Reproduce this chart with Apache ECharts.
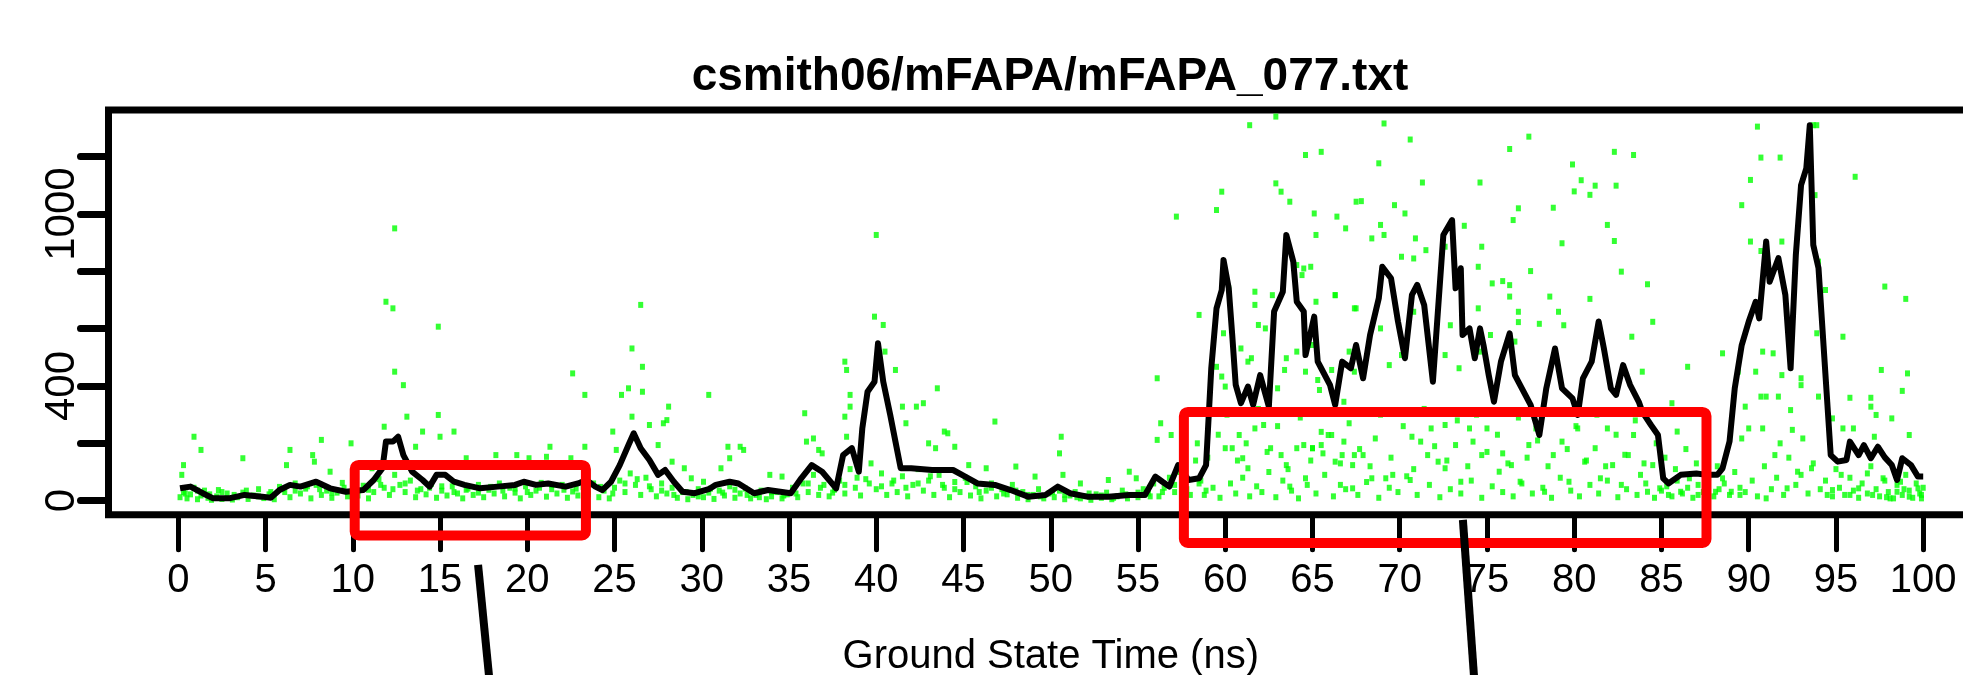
<!DOCTYPE html>
<html>
<head>
<meta charset="utf-8">
<script src="https://cdn.jsdelivr.net/npm/echarts@6/dist/echarts.min.js"></script>
<style>
html,body{margin:0;padding:0;background:#fff;}
#chart{width:1963px;height:675px;}
</style>
</head>
<body>
<div id="chart"></div>
<script>
// ---------------- data ----------------
const chartTitle = 'csmith06/mFAPA/mFAPA_077.txt';
const xAxisTitle = 'Ground State Time (ns)';
const xTickValues = [0,5,10,15,20,25,30,35,40,45,50,55,60,65,70,75,80,85,90,95,100];
const yTickValues = [0,200,400,600,800,1000,1200];
const yLabelValues = [0,400,1000];

// smoothed (running-mean) trace [time ns, intensity]
const avgLine = [
[0.1,43],[0.7,49],[1.4,26],[2.0,8],[2.9,8],[3.8,20],[4.8,14],[5.3,10],[5.8,37],[6.4,55],[7.0,49],[7.9,66],[8.7,43],[9.6,31],[10.6,37],
[11.2,72],[11.7,113],[11.9,206],[12.3,206],[12.6,223],[12.9,159],[13.4,101],[14.0,72],[14.4,49],[14.8,90],[15.3,90],[15.8,66],[16.4,55],
[17.3,43],[18.3,49],[19.3,55],[19.8,66],[20.5,55],[21.2,60],[22.2,49],[22.9,60],[23.4,72],[23.9,49],[24.3,37],[24.8,66],[25.3,124],
[25.8,194],[26.1,235],[26.5,183],[27.0,142],[27.5,90],[27.9,107],[28.4,66],[28.9,31],[29.6,26],[30.4,40],[30.8,55],[31.6,66],[32.1,60],
[33.0,26],[33.8,37],[34.5,31],[35.1,26],[35.7,78],[36.3,124],[36.9,101],[37.7,43],[38.1,159],[38.6,183],[39.0,101],[39.2,252],[39.5,380],
[39.9,415],[40.1,549],[40.4,415],[40.8,299],[41.1,206],[41.4,113],[42.0,113],[43.2,107],[44.4,107],[45.1,84],[45.8,60],[46.8,55],[47.7,37],
[48.7,14],[49.7,20],[50.4,49],[51.1,26],[52.1,14],[53.3,14],[54.5,20],[55.4,20],[56.0,84],[56.4,66],[56.8,49],[57.3,124],[57.9,72],
[58.5,78],[58.9,124],[59.2,462],[59.5,671],[59.8,735],[59.9,840],[60.2,741],[60.4,578],[60.6,404],[60.9,340],[61.3,398],[61.6,334],
[62.0,438],[62.5,328],[62.8,660],[63.3,729],[63.5,927],[63.9,834],[64.1,694],[64.5,660],[64.6,508],[65.1,642],[65.3,485],[65.5,462],
[66.0,404],[66.3,334],[66.7,485],[67.2,462],[67.5,543],[67.9,427],[68.3,578],[68.8,706],[69.0,816],[69.5,776],[69.9,625],[70.3,497],
[70.7,718],[71.0,753],[71.4,683],[71.9,415],[72.2,671],[72.5,927],[73.0,979],[73.2,741],[73.5,811],[73.6,578],[74.0,601],[74.3,497],
[74.6,601],[74.8,543],[75.1,438],[75.4,345],[75.8,485],[76.3,584],[76.6,438],[77.0,392],[77.5,334],[78.0,229],[78.4,392],[78.9,531],
[79.3,392],[79.9,357],[80.2,299],[80.5,427],[81.0,485],[81.4,625],[81.7,531],[82.1,392],[82.4,369],[82.8,473],[83.2,404],[83.7,345],
[83.9,310],[84.4,264],[84.8,229],[85.1,78],[85.4,60],[86.1,90],[87.0,95],[87.6,90],[88.2,90],[88.5,113],[88.9,206],[89.2,392],[89.6,543],
[90.0,625],[90.4,694],[90.6,636],[91.0,904],[91.2,764],[91.7,846],[92.1,718],[92.4,462],[92.7,857],[93.0,1101],[93.3,1159],[93.5,1310],
[93.7,892],[94.0,811],[94.3,531],[94.7,159],[95.1,136],[95.6,142],[95.8,206],[96.3,159],[96.6,194],[97.0,148],[97.4,188],[97.8,151],
[98.2,124],[98.5,72],[98.8,148],[99.3,124],[99.7,84],[100.0,84]
];

// individual photon-count points, higher outliers
const highDots = [
[0.9,223],[0.3,124],[1.3,177],[0.2,90],[2.3,37],[3.7,148],[6.4,177],[6.2,124],[7.7,159],[7.8,136],[8.2,212],[8.7,101],[9.9,200],[10.1,90],
[11.1,113],[11.8,258],[11.9,694],[12.3,671],[12.4,950],[12.4,450],[12.9,403],[13.1,293],[13.6,188],[14.0,241],[14.9,299],[15.0,223],
[14.9,607],[15.8,241],[16.5,148],[18.2,159],[19.4,159],[20.1,148],[21.3,188],[21.1,153],[22.5,148],[22.6,444],[23.3,369],[23.3,188],
[24.9,241],[25.1,177],[25.4,369],[25.8,392],[26.0,531],[26.0,293],[26.5,683],[26.6,467],[26.6,380],[27.0,264],[27.8,270],[28.1,328],
[28.0,281],[27.5,194],[28.3,136],[29.0,113],[29.4,78],[30.4,369],[30.1,66],[31.5,188],[32.2,188],[32.4,177],[31.6,148],[31.1,113],
[33.9,90],[34.6,84],[35.9,305],[36.0,206],[36.4,217],[36.7,177],[36.9,165],[38.2,485],[38.3,456],[38.5,369],[38.5,328],[38.2,293],
[38.3,223],[39.9,642],[40.4,613],[40.0,927],[40.5,520],[41.1,456],[41.5,328],[41.7,270],[42.3,328],[42.7,340],[43.5,392],[43.0,200],
[43.4,183],[43.9,241],[44.1,235],[44.5,188],[46.8,276],[45.3,124],[46.3,113],[48.0,119],[49.1,84],[50.6,223],[50.5,165],[50.7,90],
[51.7,60],[53.3,72],[54.5,101],[54.9,78],[56.1,427],[56.3,270],[56.1,212],[57.2,991],[56.9,229],[58.5,648],[58.4,200],[59.5,1014],
[59.8,1078],[61.4,1310],[62.9,1340],[62.9,1107],[63.2,1078],[63.7,1043],[64.6,1206],[65.5,1217],[65.1,1002],[65.2,927],[66.4,991],
[66.9,950],[67.5,1043],[59.9,584],[59.5,467],[59.8,433],[60.0,398],[60.2,741],[60.9,531],[61.3,485],[61.5,497],[61.7,729],[61.7,683],
[61.9,613],[62.3,601],[62.7,717],[63.0,392],[63.4,456],[63.5,497],[64.1,822],[64.4,787],[64.1,520],[64.6,450],[65.2,694],[65.3,421],
[65.4,386],[66.3,717],[66.1,456],[66.8,345],[67.5,671],[60.0,183],[60.4,183],[60.8,229],[61.0,148],[61.3,113],[61.7,252],[62.2,264],
[62.6,183],[63.2,159],[63.5,124],[63.7,49],[64.1,183],[64.6,78],[65.0,183],[65.5,194],[65.9,229],[66.3,136],[66.6,55],[66.8,206],
[67.3,43],[67.4,159],
[69.1,1316],[68.8,1177],[70.6,1260],[71.3,1110],[67.8,1045],[69.7,1031],[70.3,1002],[68.9,962],[68.4,915],[69.1,927],[70.9,915],
[73.7,959],[74.6,1110],[76.3,1227],[77.4,1270],[76.8,1020],[76.5,979],[78.8,1022],[79.9,1173],[80.4,1118],[81.2,1099],[80.0,1079],
[80.9,1067],[82.3,1217],[83.4,1206],[82.4,1099],[81.9,962],[82.3,906],[79.3,898],[74.7,886],[71.5,874],[70.1,851],[70.8,845],[72.6,886],
[74.5,816],[77.5,801],[82.7,799],[84.2,755],[75.9,766],[76.3,752],[75.3,758],[64.5,810],[64.9,816],[66.3,717],[67.4,671],[70.8,659],
[74.5,671],[76.3,712],[76.8,659],[78.6,712],[79.1,659],[80.9,704],[76.8,623],[78.0,617],[79.4,612],[84.5,624],[72.9,612],[68.9,601],
[72.6,508],[65.0,543],[67.1,520],[67.4,450],[69.4,473],[70.1,508],[73.4,462],[74.6,520],[75.2,578],[76.6,555],[83.3,572],[83.9,450],
[86.5,467],[85.6,340],
[90.5,1305],[90.7,1197],[91.8,1197],[90.1,1119],[89.6,1031],[93.7,1310],[93.9,1310],[96.1,1130],[93.8,1066],[91.9,904],[90.1,904],
[90.7,871],[94.0,834],[94.4,735],[97.8,747],[99.0,704],[93.9,584],[95.4,572],[88.5,514],[89.4,450],[90.8,520],[91.4,514],[90.4,450],
[91.9,438],[93.0,427],[93.0,403],[97.6,456],[99.1,444],[98.8,383],[91.0,363],[91.7,363],[90.7,363],[94.0,363],[95.8,359],[97.0,359],
[97.0,328],[89.8,328],[92.4,316],[97.3,299],[98.2,287],[94.8,287],[92.5,247],[93.1,217],[90.0,252],[90.8,252],[99.2,229],[96.0,252],
[95.4,252],[97.2,223],[91.8,200],[89.6,217],[91.5,159]
];

// dense low-level points
const lowDots = [
[0.1,12],[0.3,30],[0.5,8],[0.7,22],[0.9,45],[1.1,5],[1.3,18],[1.5,35],[1.7,10],[1.9,3],[2.2,15],[2.5,6],[2.8,25],[3.1,4],[3.4,12],[3.7,28],
[4.0,6],[4.3,18],[4.6,40],[4.9,9],[5.2,22],[5.5,5],[5.8,48],[6.1,30],[6.4,12],[6.7,60],[7.0,25],[7.3,42],[7.6,8],[7.9,55],[8.2,20],[8.5,35],
[8.8,10],[9.1,28],[9.4,62],[9.7,15],[10.0,40],[10.3,18],[10.6,52],[10.9,8],[11.2,30],[11.5,75],[11.8,45],[12.1,20],[12.4,90],[12.7,55],
[13.0,30],[13.3,70],[13.6,12],[13.9,40],[14.2,22],[14.5,58],[14.8,10],[15.1,35],[15.4,18],[15.7,50],[16.0,25],[16.3,8],[16.6,42],[16.9,20],
[17.2,55],[17.5,12],[17.8,38],[18.1,25],[18.4,60],[18.7,15],[19.0,45],[19.3,28],[19.6,8],[19.9,50],[20.2,20],[20.5,35],[20.8,62],[21.1,14],
[21.4,40],[21.7,25],[22.0,55],[22.3,10],[22.6,32],[22.9,18],[23.2,48],[23.5,22],[23.8,60],[24.1,12],[24.4,35],[24.7,8],[25.0,45],[25.3,70],
[25.6,30],[25.9,95],[26.2,55],[26.5,20],[26.8,80],[27.1,40],[27.4,15],[27.7,60],[28.0,25],[28.3,45],[28.6,10],[28.9,30],[29.2,5],[29.5,20],
[29.8,40],[30.1,12],[30.4,28],[30.7,6],[31.0,35],[31.3,18],[31.6,50],[31.9,10],[32.2,25],[32.5,42],[32.8,8],[33.1,20],[33.4,35],[33.7,5],
[34.0,15],[34.3,30],[34.6,8],[34.9,22],[35.2,45],[35.5,12],[35.8,60],[36.1,30],[36.4,90],[36.7,20],[37.0,55],[37.3,15],[37.6,38],[37.9,70],
[38.2,25],[38.5,110],[38.8,45],[39.1,18],[39.4,75],[39.7,130],[40.0,40],[40.3,95],[40.6,20],[40.9,60],[41.2,30],[41.5,85],[41.8,15],[42.1,55],
[42.4,110],[42.7,35],[43.0,70],[43.3,20],[43.6,90],[43.9,45],[44.2,12],[44.5,65],[44.8,30],[45.1,80],[45.4,18],[45.7,50],[46.0,8],[46.3,35],
[46.6,60],[46.9,15],[47.2,40],[47.5,22],[47.8,55],[48.1,10],[48.4,30],[48.7,5],[49.0,20],[49.3,40],[49.6,8],[49.9,25],[50.2,12],[50.5,35],
[50.8,5],[51.1,18],[51.4,30],[51.7,8],[52.0,15],[52.3,3],[52.6,22],[52.9,10],[53.2,28],[53.5,5],[53.8,15],[54.1,35],[54.4,8],[54.7,20],
[55.0,12],[55.3,40],[55.6,25],[55.9,60],[56.2,15],[56.5,45],[56.8,80],[57.1,30],[57.4,100],[57.7,50],[58.0,20],[58.3,140],[58.6,70],[58.9,35],
[0.4,25],[1.1,35],[1.8,22],[2.5,30],[3.2,20],[3.9,35],[4.6,15],[5.3,30],[6.0,40],[6.7,35],[7.4,50],[8.1,40],[8.8,28],[9.5,45],[10.2,25],
[10.9,38],[11.6,55],[12.3,40],[13.0,60],[13.7,35],[14.4,45],[15.1,50],[15.8,30],[16.5,38],[17.2,28],[17.9,48],[18.6,35],[19.3,42],[20.0,30],
[20.7,45],[21.4,55],[22.1,38],[22.8,42],[23.5,30],[24.2,48],[24.9,25],[25.6,60],[26.3,75],[27.0,50],[27.7,35],[28.4,20],[29.1,30],[29.8,15],
[30.5,42],[31.2,28],[31.9,38],[32.6,20],[33.3,12],[34.0,30],[34.7,18],[35.4,25],[36.1,60],[36.8,45],[37.5,28],[38.2,55],[38.9,80],[39.6,60],
[40.3,50],[41.0,70],[41.7,45],[42.4,60],[43.1,85],[43.8,55],[44.5,40],[45.2,65],[45.9,30],[46.6,45],[47.3,25],[48.0,35],[48.7,20],[49.4,15],
[50.1,30],[50.8,20],[51.5,12],[52.2,25],[52.9,18],[53.6,10],[54.3,22],[55.0,28],[55.7,15],[56.4,30],[57.1,55],[57.8,40],[58.5,60],
[58.8,20],[59.3,45],[59.7,10],[60.3,60],[60.6,25],[61.0,80],[61.4,15],[61.8,50],[62.1,30],[62.5,100],[62.9,12],[63.3,70],[63.8,35],[64.2,8],
[64.7,55],[65.2,25],[65.7,90],[66.2,15],[66.9,40],[67.6,20],[68.1,65],[68.8,10],[69.4,45],[69.9,30],[70.4,85],[71.0,20],[71.7,55],[72.3,12],
[72.9,40],[73.5,25],[74.1,70],[74.7,10],[75.3,50],[75.9,30],[76.5,15],[77.0,60],[77.6,25],[78.2,45],[78.7,10],[79.2,80],[79.8,35],[80.3,15],
[80.9,55],[81.4,25],[81.9,70],[82.5,12],[83.0,40],[83.6,20],[84.1,60],[84.6,10],[85.0,35],[85.3,50],[85.6,15],[85.9,70],[86.2,25],[86.5,45],
[86.8,10],[87.1,55],[87.4,30],[87.7,80],[88.0,15],[88.3,40],[88.6,60],[88.9,20],[89.2,100],[89.5,45],
[59.0,150],[59.6,230],[60.1,300],[60.7,140],[61.2,200],[61.9,320],[62.4,170],[63.0,260],[63.6,110],[64.3,290],[64.9,140],[65.5,240],
[66.0,310],[66.6,130],[67.1,270],[67.7,180],[68.3,120],[68.9,300],[69.5,150],[70.2,260],[70.8,110],[71.4,320],[72.0,190],[72.7,140],
[73.3,280],[73.9,120],[74.4,300],[75.0,170],[75.6,230],[76.2,130],[76.8,290],[77.3,150],[77.9,210],[78.5,120],[79.0,310],[79.6,180],
[80.1,260],[80.7,140],[81.3,300],[81.8,120],[82.4,230],[82.9,160],[83.5,280],[84.0,130],[84.7,200],[85.2,150],[85.8,110],[86.4,180],
[87.0,130],[87.6,160],[88.2,120],
[64.5,194],[65.0,183],[65.6,165],[66.1,229],[66.7,159],[67.3,124],[67.9,159],[68.6,217],[68.4,78],[69.2,78],[69.6,90],[70.7,223],[70.6,72],
[71.2,206],[71.6,159],[71.8,252],[72.2,136],[72.6,264],[72.6,113],[73.2,194],[73.5,66],[74.0,252],[74.2,206],[74.7,159],[75.0,252],
[75.7,101],[75.9,165],[76.4,124],[76.9,66],[77.4,194],[77.8,252],[78.3,31],[78.8,159],[79.3,206],[79.7,66],[80.2,252],[80.6,136],
[81.2,183],[81.5,78],[81.9,252],[82.2,124],[82.7,55],[83.1,159],[83.4,229],[83.8,90],[84.2,31],[84.5,124],[84.9,43],[85.4,20],[85.9,241],
[86.1,31],[86.6,78],[87.1,20],[87.5,43],[88.1,31],[88.5,78],[89.0,31],[89.5,20],[91.0,8],[92.2,43],[92.8,101],[93.6,113],[94.5,20],
[94.8,37],[95.3,90],[95.8,20],[96.3,43],[96.8,95],[97.1,20],[97.7,78],[98.1,8],[98.5,31],[98.7,66],[99.2,14],[99.7,43],[99.9,20],
[89.8,30],[90.2,70],[90.5,15],[90.9,120],[91.3,40],[91.6,80],[92.0,20],[92.3,150],[92.7,55],[93.0,90],[93.4,25],[93.7,130],[94.1,40],
[94.4,70],[94.8,15],[95.0,110],[95.2,45],[95.5,20],[95.8,80],[96.0,35],[96.3,10],[96.5,60],[96.8,25],[97.0,120],[97.3,40],[97.5,15],
[97.8,70],[98.0,30],[98.3,8],[98.5,55],[98.8,20],[99.0,90],[99.2,35],[99.4,10],[99.6,60],[99.8,25],[100.0,45],[99.9,8],[98.9,40],[97.9,12]
];

// annotation overlays, in data units of the plot
const highlightBoxes = [
  {x0:10.11, x1:23.36, y0:124.5, y1:-121.4},
  {x0:57.63, x1:87.58, y0:309.4, y1:-147.6}
];
const pointerLines = [
  {x0:17.18, y0:-224, x1:17.87, y1:-650},
  {x0:73.62, y0:-67,  x1:74.30, y1:-650}
];

// ---------------- chart ----------------
const sans = "'Liberation Sans',Arial,Helvetica,sans-serif";
const chart = echarts.init(document.getElementById('chart'), null, {renderer:'canvas'});
chart.setOption({
  backgroundColor:'#ffffff',
  animation:false,
  title:{
    text: chartTitle,
    left: 1050, top: 54, padding: 0,
    textAlign:'center',
    textStyle:{fontFamily: sans, fontWeight:'bold', fontSize:46, color:'#000'}
  },
  grid:{
    show:true, left:108.5, width:1884.5, top:110, height:404.7,
    outerBoundsMode:'none', containLabel:false,
    borderColor:'#000', borderWidth:7, backgroundColor:'transparent'
  },
  xAxis:{
    type:'value', min:-4, max:104,
    name: xAxisTitle, nameLocation:'middle', nameGap:122,
    nameTextStyle:{fontFamily: sans, fontSize:40, color:'#000'},
    axisLine:{show:false, onZero:false},
    splitLine:{show:false},
    axisTick:{show:true, customValues:xTickValues, length:35, lineStyle:{color:'#000', width:5, cap:'round'}},
    axisLabel:{show:true, customValues:xTickValues, margin:46, fontFamily: sans, fontSize:40, color:'#000'}
  },
  yAxis:{
    type:'value', min:-49, max:1363,
    axisLine:{show:false, onZero:false},
    splitLine:{show:false},
    axisTick:{show:true, customValues:yTickValues, length:28, lineStyle:{color:'#000', width:7, cap:'round'}},
    axisLabel:{show:true, customValues:yLabelValues, rotate:90, margin:25, fontFamily: sans, fontSize:42, color:'#000',
      formatter: v => String(v)}
  },
  series:[
    {type:'scatter', data: lowDots, symbol:'rect', symbolSize:[5,6], itemStyle:{color:'#00ff00'}, z:2, silent:true},
    {type:'scatter', data: highDots, symbol:'rect', symbolSize:[5,6], itemStyle:{color:'#00ff00'}, z:2, silent:true},
    {type:'line', data: avgLine, showSymbol:false, symbol:'none', lineStyle:{color:'#000', width:6, join:'round'}, z:3, silent:true}
  ]
});

const graphics = [];
highlightBoxes.forEach(b => {
  const p0 = chart.convertToPixel({gridIndex:0}, [b.x0, b.y0]);
  const p1 = chart.convertToPixel({gridIndex:0}, [b.x1, b.y1]);
  graphics.push({
    type:'rect', z:100,
    shape:{x:p0[0], y:p0[1], width:p1[0]-p0[0], height:p1[1]-p0[1], r:4},
    style:{fill:'none', stroke:'#ff0000', lineWidth:10}
  });
});
pointerLines.forEach(l => {
  const p0 = chart.convertToPixel({gridIndex:0}, [l.x0, l.y0]);
  const p1 = chart.convertToPixel({gridIndex:0}, [l.x1, l.y1]);
  graphics.push({
    type:'line', z:100,
    shape:{x1:p0[0], y1:p0[1], x2:p1[0], y2:p1[1]},
    style:{stroke:'#000', lineWidth:8}
  });
});
chart.setOption({graphic: graphics});
</script>
</body>
</html>
